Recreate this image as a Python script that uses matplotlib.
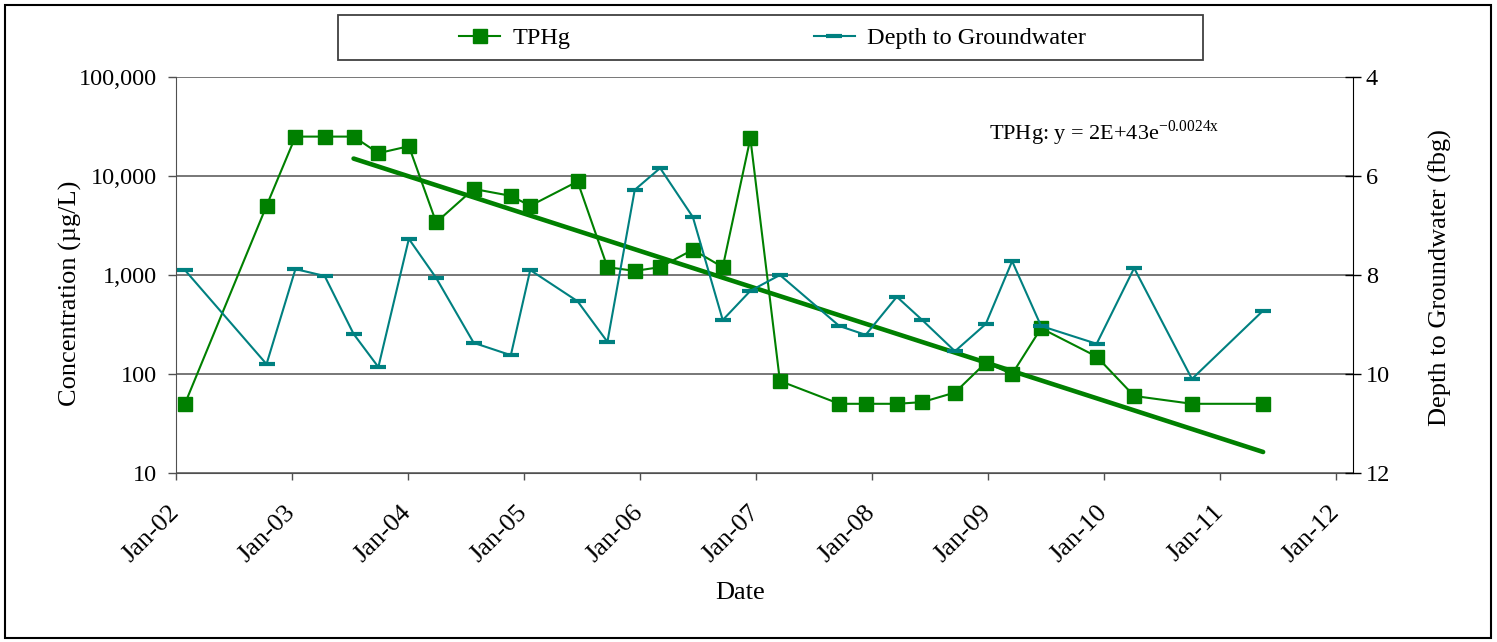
import numpy as np
import pandas as pd
import matplotlib
matplotlib.use("Agg")
import matplotlib.pyplot as plt
import matplotlib.dates as mdates
import matplotlib.ticker as mticker
from matplotlib.patches import Rectangle

plt.rcParams['font.family'] = ['Liberation Serif', 'DejaVu Serif']

# sampling dates (shared by both series)
dates = pd.to_datetime([
    "2002-01-29", "2002-10-13", "2003-01-12", "2003-04-14", "2003-07-14",
    "2003-09-30", "2004-01-04", "2004-03-30", "2004-07-26", "2004-11-20",
    "2005-01-20", "2005-06-18", "2005-09-20", "2005-12-15", "2006-03-05",
    "2006-06-16", "2006-09-18", "2006-12-14", "2007-03-17", "2007-09-20",
    "2007-12-12", "2008-03-19", "2008-06-07", "2008-09-18", "2008-12-24",
    "2009-03-17", "2009-06-16", "2009-12-08", "2010-04-05", "2010-10-04",
    "2011-05-16",
])

tphg = [50, 5000, 25000, 25000, 25000, 17000, 20000, 3400, 7400, 6300,
        5000, 8800, 1200, 1100, 1200, 1800, 1200, 24000, 85, 50,
        50, 50, 52, 65, 130, 100, 290, 150, 60, 50,
        50]

depth = [7.9, 9.8, 7.88, 8.02, 9.19, 9.86, 7.27, 8.06, 9.37, 9.62,
         7.9, 8.53, 9.35, 6.28, 5.84, 6.83, 8.91, 8.32, 8.0, 9.03,
         9.21, 8.44, 8.91, 9.54, 8.99, 7.72, 9.03, 9.39, 7.86, 10.1,
         8.72]

# exponential trendline (straight on log axis), end points
trend_dates = pd.to_datetime(["2003-07-14", "2011-05-16"])
trend_vals = [15000, 16.3]

green = "#008000"
teal = "#008080"

fig = plt.figure(figsize=(14.97, 6.42), dpi=100)
W, H = 1497.0, 642.0
ax = fig.add_axes([176 / W, 1 - 473 / H, (1352.7 - 176) / W, (473 - 77) / H])
ax2 = ax.twinx()

l1, = ax.plot(dates, tphg, color=green, lw=1.5, marker='s', ms=9.5,
              mfc=green, mec=green, label="TPHg", zorder=3)
ax.plot(trend_dates, trend_vals, color=green, lw=3.3, solid_capstyle='round', zorder=4)
l2, = ax2.plot(dates, depth, color=teal, lw=1.5, marker='_', ms=11, mew=3,
               label="Depth to Groundwater", zorder=3)

ax.set_yscale('log')
ax.set_ylim(10, 100000)
ax.yaxis.set_major_locator(mticker.LogLocator(base=10, numticks=10))
ax.yaxis.set_minor_locator(mticker.NullLocator())
ax.yaxis.set_major_formatter(mticker.FuncFormatter(lambda v, p: "{:,.0f}".format(v)))
ax.grid(axis='y', color='#606060', lw=1.2)
ax.set_axisbelow(True)

ax.set_xlim(pd.Timestamp("2002-01-01"), pd.Timestamp("2012-02-22"))
ax.xaxis.set_major_locator(mdates.YearLocator())
ax.xaxis.set_major_formatter(mdates.DateFormatter('%b-%y'))

ax2.set_ylim(12, 4)
ax2.set_yticks([4, 6, 8, 10, 12])

ax.spines['top'].set_visible(False)
ax2.spines['top'].set_visible(False)
ax.spines['left'].set_color('#505050')
ax.spines['bottom'].set_color('#505050')
ax.spines['right'].set_visible(False)
ax2.spines['left'].set_visible(False)
ax2.spines['bottom'].set_visible(False)
ax2.spines['right'].set_color('black')

ax.tick_params(axis='y', direction='out', length=6, width=1, color='#505050',
               pad=8, labelsize=17.5)
ax.tick_params(axis='x', direction='out', length=5, width=1, color='#505050',
               pad=21, labelsize=19)
for lab in ax.get_xticklabels():
    lab.set_rotation(45)
    lab.set_ha('right')
    lab.set_va('center')
    lab.set_rotation_mode('anchor')
ax2.tick_params(axis='y', direction='inout', length=11, width=1, color='black',
                pad=4, labelsize=17.5)

ax.set_ylabel("Concentration (µg/L)", fontsize=19, va='center')
ax.yaxis.set_label_coords((70 - 176) / 1176.7, (473 - 293.5) / 396)
ax2.set_ylabel("Depth to Groundwater (fbg)", fontsize=19, va='center', rotation=90)
ax2.yaxis.set_label_coords((1440 - 176) / 1176.7, (473 - 277.5) / 396)
ax.set_xlabel("Date", fontsize=19, va='center')
ax.xaxis.set_label_coords((740 - 176) / 1176.7, (473 - 593) / 396)

fig.text(989 / W, 1 - 133 / H, r"TPHg: y = 2E+43e$^{\mathregular{-0.0024x}}$",
         fontsize=16, ha='left', va='center')

# legend box and legend
fig.patches.append(Rectangle((338 / W, 1 - 60 / H), (1203 - 338) / W, 45 / H,
                             transform=fig.transFigure, fill=False,
                             edgecolor='#404040', lw=1.3))
fig.legend([l1, l2], ["TPHg", "Depth to Groundwater"], loc='center',
           bbox_to_anchor=(772.5 / W, 1 - 38 / H), ncol=2, frameon=False,
           fontsize=17.5, numpoints=1, handlelength=1.7, handletextpad=0.5,
           columnspacing=10.0)

# outer frame
fig.patches.append(Rectangle((4.5 / W, 4.5 / H), (1491 - 4.5) / W, (637.5 - 4.5) / H,
                             transform=fig.transFigure, fill=False,
                             edgecolor='black', lw=1.5))

fig.savefig("out.png", dpi=100)
